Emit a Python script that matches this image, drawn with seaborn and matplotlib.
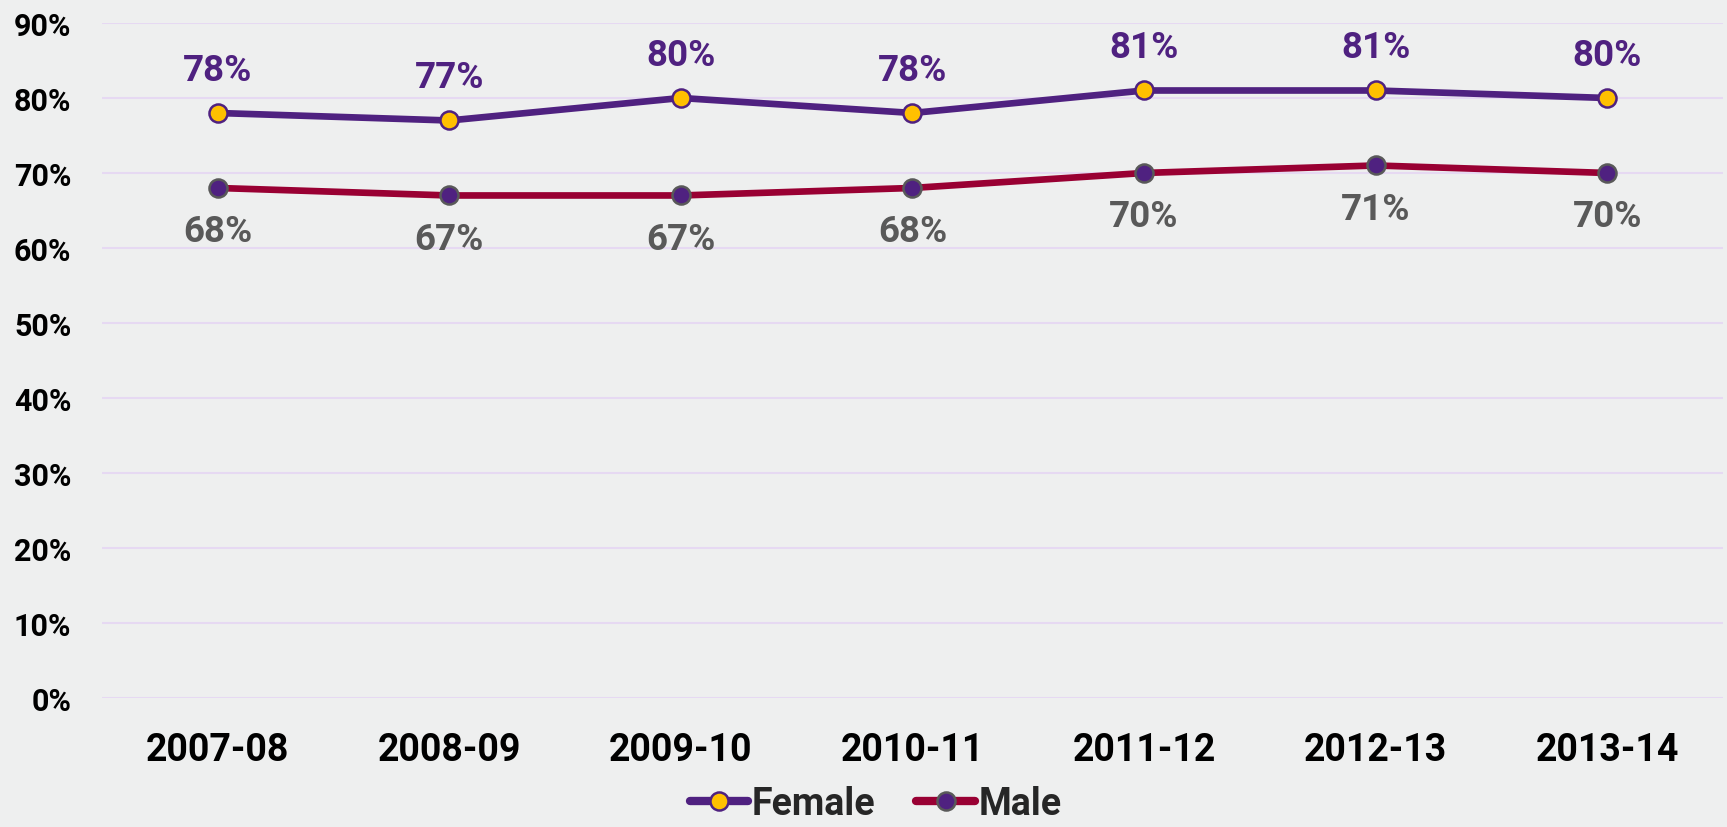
import matplotlib
matplotlib.use("Agg")
import matplotlib.pyplot as plt
import seaborn as sns
import pandas as pd
from matplotlib.lines import Line2D
from matplotlib.ticker import FuncFormatter

years = ["2007-08", "2008-09", "2009-10", "2010-11", "2011-12", "2012-13", "2013-14"]
female = [78, 77, 80, 78, 81, 81, 80]
male = [68, 67, 67, 68, 70, 71, 70]
y_ticks = [0, 10, 20, 30, 40, 50, 60, 70, 80, 90]

PURPLE = "#4F2180"
YELLOW = "#FFC000"
CRIMSON = "#990033"
GRAY = "#595959"
GRID = "#E6D9F2"
BG = "#EEEFEF"

df = pd.DataFrame({
    "year": years * 2,
    "value": female + male,
    "series": ["Female"] * len(years) + ["Male"] * len(years),
})

sns.set_theme(style="white")
plt.rcParams["font.family"] = ["Roboto", "DejaVu Sans"]
plt.rcParams["font.weight"] = "bold"

fig = plt.figure(figsize=(17.27, 8.28), dpi=100, facecolor=BG)
ax = fig.add_axes([0.059, 0.156, 0.9387, 0.815])
ax.set_facecolor(BG)

LW = 4.8
xpos = list(range(len(years)))
styles = {
    "Female": dict(color=PURPLE, mfc=YELLOW, mec=PURPLE, lab=PURPLE, off=31),
    "Male": dict(color=CRIMSON, mfc=PURPLE, mec=GRAY, lab=GRAY, off=-31),
}
for name, vals in [("Female", female), ("Male", male)]:
    st = styles[name]
    sub = pd.DataFrame({"x": xpos, "v": vals})
    sns.lineplot(data=sub, x="x", y="v", ax=ax, color=st["color"], linewidth=LW,
                 marker="o", markersize=13, markerfacecolor=st["mfc"],
                 markeredgecolor=st["mec"], markeredgewidth=1.8, zorder=3)
    for x, v in zip(xpos, vals):
        ax.annotate(f"{v}%", (x, v), xytext=(0, st["off"]), textcoords="offset points",
                    ha="center", va="center", fontsize=26.5, fontweight="bold",
                    color=st["lab"])

ax.set_xlim(-0.5, len(years) - 0.5)
ax.set_ylim(0, 90)
ax.set_yticks(y_ticks)
ax.yaxis.set_major_formatter(FuncFormatter(lambda v, p: f"{int(v)}%"))
ax.set_xticks(xpos)
ax.set_xticklabels(years)
ax.tick_params(axis="y", length=0, pad=22, labelsize=22, labelcolor="black")
ax.tick_params(axis="x", length=0, pad=24, labelsize=27, labelcolor="black")
for lab in ax.get_xticklabels() + ax.get_yticklabels():
    lab.set_fontweight("bold")
ax.set_xlabel("")
ax.set_ylabel("")
ax.grid(axis="y", color=GRID, linewidth=1.5)
ax.grid(axis="x", visible=False)
ax.set_axisbelow(True)
for s in ax.spines.values():
    s.set_visible(False)

handles = [
    Line2D([0], [0], color=PURPLE, linewidth=6, marker="o", markersize=13,
           markerfacecolor=YELLOW, markeredgecolor=PURPLE, markeredgewidth=1.8,
           solid_capstyle="round"),
    Line2D([0], [0], color=CRIMSON, linewidth=6, marker="o", markersize=13,
           markerfacecolor=PURPLE, markeredgecolor=GRAY, markeredgewidth=1.8,
           solid_capstyle="round"),
]
leg = fig.legend(handles, ["Female", "Male"], loc="center", bbox_to_anchor=(0.507, 0.028),
                 ncol=2, frameon=False, handlelength=1.55,
                 handletextpad=0.1, columnspacing=1.1, prop={"weight": "bold", "size": 27})

fig.savefig("out.png", dpi=100, facecolor=BG)
